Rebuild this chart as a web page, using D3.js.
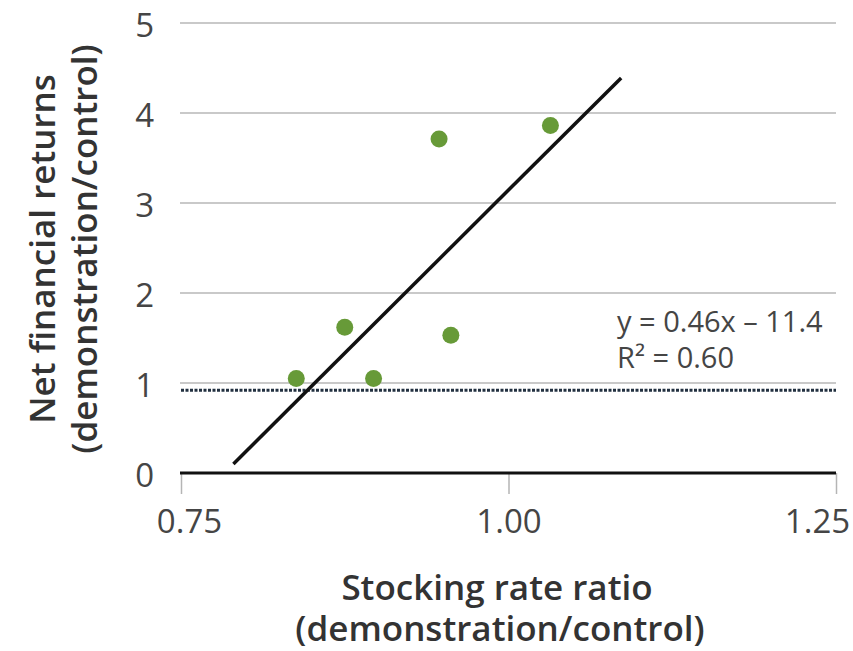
<!DOCTYPE html>
<html>
<head>
<meta charset="utf-8">
<script src="https://cdn.jsdelivr.net/npm/d3@7"></script>
<style>
  body { margin: 0; background: #fff; }
  text { font-family: "Open Sans", "Noto Sans", sans-serif; }
</style>
</head>
<body>
<div id="chart"></div>
<script>
// Data
const stockingRatio = [0.838, 0.875, 0.897, 0.947, 0.956, 1.032];
const netReturns = [1.05, 1.62, 1.05, 3.71, 1.53, 3.86];
// fitted line, start and end
const trendX = [0.79, 1.086];
const trendY = [0.1, 4.39];
// dotted reference level
const refLevel = 0.92;
const xTicks = [0.75, 1.00, 1.25];
const yTicks = [0, 1, 2, 3, 4, 5];
const equation = ['y = 0.46x \u2013 11.4', 'R\u00b2 = 0.60'];

const W = 853, H = 651;
const plot = { left: 181, right: 836, top: 23, bottom: 473 };

const svg = d3.select('#chart')
    .append('svg')
    .attr('width', W)
    .attr('height', H);

// Scales
const xScale = d3.scaleLinear().domain([0.75, 1.25]).range([plot.left, plot.right]);
const yScale = d3.scaleLinear().domain([0, 5]).range([plot.bottom, plot.top]);

// Gridlines
svg.append('g')
    .selectAll('line')
    .data(yTicks.filter(d => d > 0))
    .enter()
    .append('line')
    .attr('x1', plot.left - 1)
    .attr('x2', plot.right)
    .attr('y1', d => yScale(d))
    .attr('y2', d => yScale(d))
    .attr('stroke', '#c9c9c9')
    .attr('stroke-width', 2);

// X axis (ticks + labels)
const xAxis = svg.append('g')
    .attr('transform', `translate(0, ${plot.bottom})`)
    .call(d3.axisBottom(xScale).tickValues(xTicks).tickFormat(d3.format('.2f')).tickSize(21).tickPadding(16));
xAxis.select('.domain').remove();
xAxis.selectAll('.tick line').attr('stroke', '#b5b5b5').attr('stroke-width', 1.5);
xAxis.selectAll('.tick text')
    .attr('fill', '#454545')
    .style('font-size', '33px')
    .attr('dx', (d, i) => i === 0 ? '8px' : (i === xTicks.length - 1 ? '-19px' : '0px'));

// Y axis labels
const yAxis = svg.append('g')
    .attr('transform', `translate(${plot.left}, 0)`)
    .call(d3.axisLeft(yScale).tickValues(yTicks).tickFormat(d3.format('d')).tickSize(0).tickPadding(27));
yAxis.select('.domain').remove();
yAxis.selectAll('.tick text')
    .attr('fill', '#454545')
    .style('font-size', '33px')
    .attr('dy', '0.4em');

// Zero baseline
svg.append('line')
    .attr('x1', plot.left - 1)
    .attr('x2', plot.right)
    .attr('y1', yScale(0))
    .attr('y2', yScale(0))
    .attr('stroke', '#111')
    .attr('stroke-width', 3);

// Dotted reference line
svg.append('line')
    .attr('x1', plot.left)
    .attr('x2', plot.right)
    .attr('y1', yScale(refLevel))
    .attr('y2', yScale(refLevel))
    .attr('stroke', '#223040')
    .attr('stroke-width', 3)
    .attr('stroke-dasharray', '3,1.5');

// Points
svg.append('g')
    .selectAll('circle')
    .data(stockingRatio)
    .enter()
    .append('circle')
    .attr('cx', d => xScale(d))
    .attr('cy', (d, i) => yScale(netReturns[i]))
    .attr('r', 8.5)
    .attr('fill', '#679a38');

// Fitted line
svg.append('path')
    .datum(trendX.map((d, i) => [d, trendY[i]]))
    .attr('d', d3.line().x(d => xScale(d[0])).y(d => yScale(d[1])))
    .attr('fill', 'none')
    .attr('stroke', '#111')
    .attr('stroke-width', 3.5);

// Equation text
svg.append('g')
    .selectAll('text')
    .data(equation)
    .enter()
    .append('text')
    .attr('x', 617)
    .attr('y', (d, i) => 332 + i * 36)
    .attr('fill', '#454545')
    .style('font-size', '29px')
    .text(d => d);

// X axis title (two lines in one text)
const xTitle = svg.append('text')
    .attr('text-anchor', 'middle')
    .attr('fill', '#333')
    .style('font-size', '35px')
    .style('font-weight', 600);
xTitle.append('tspan').attr('x', 497).attr('y', 600).text('Stocking rate ratio');
xTitle.append('tspan').attr('x', 500).attr('y', 641).text('(demonstration/control)');

// Y axis title
const yTitle = svg.append('text')
    .attr('text-anchor', 'middle')
    .attr('transform', 'translate(55, 249) rotate(-90)')
    .attr('fill', '#333')
    .style('font-size', '35px')
    .style('font-weight', 600);
yTitle.append('tspan').attr('x', 0).attr('y', 0).text('Net financial returns');
yTitle.append('tspan').attr('x', 0).attr('y', 42).text('(demonstration/control)');
</script>
</body>
</html>
